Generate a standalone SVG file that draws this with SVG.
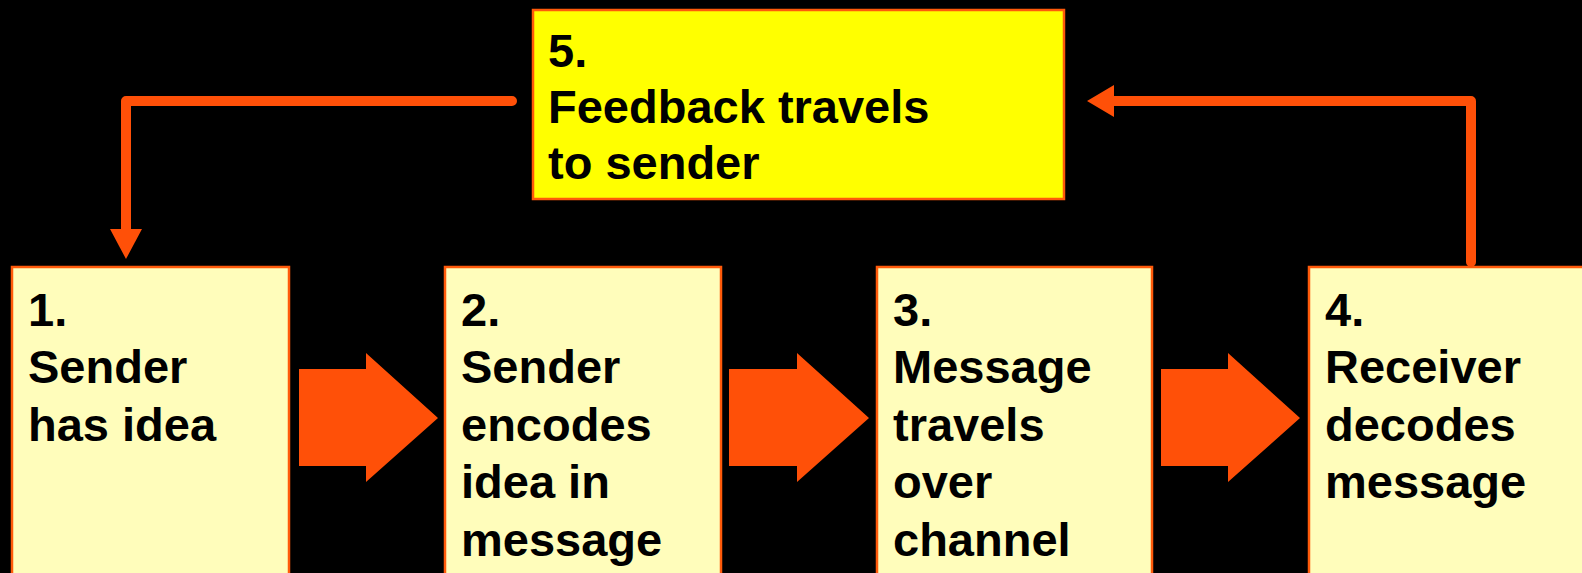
<svg xmlns="http://www.w3.org/2000/svg" width="1582" height="573" viewBox="0 0 1582 573">
<defs>
<style>
.box{fill:#FFFDBB;stroke:#FF5A0A;stroke-width:2.5}
.fb{fill:#FFFF00;stroke:#FF5A0A;stroke-width:2.5}
.t{font-family:"Liberation Sans",Arial,sans-serif;font-weight:bold;font-size:47px;fill:#000}
.line{fill:none;stroke:#FF5008;stroke-width:10;stroke-linejoin:round;stroke-linecap:round}
.big{fill:#FF5008}
.head{fill:#FF5008}
</style>
</defs>
<rect width="1582" height="573" fill="#000"/>
<g id="node5">
<rect class="fb" x="533" y="10" width="531" height="189"/>
<text class="t" x="548" y="67">5.</text>
<text class="t" x="548" y="123">Feedback travels</text>
<text class="t" x="548" y="179">to sender</text>
</g>
<g id="node1">
<rect class="box" x="12" y="267" width="277" height="310"/>
<text class="t" x="28" y="326">1.</text>
<text class="t" x="28" y="383">Sender</text>
<text class="t" x="28" y="441">has idea</text>
</g>
<g id="node2">
<rect class="box" x="445" y="267" width="276" height="310"/>
<text class="t" x="461" y="326">2.</text>
<text class="t" x="461" y="383">Sender</text>
<text class="t" x="461" y="441">encodes</text>
<text class="t" x="461" y="498">idea in</text>
<text class="t" x="461" y="556">message</text>
</g>
<g id="node3">
<rect class="box" x="877" y="267" width="275" height="310"/>
<text class="t" x="893" y="326">3.</text>
<text class="t" x="893" y="383">Message</text>
<text class="t" x="893" y="441">travels</text>
<text class="t" x="893" y="498">over</text>
<text class="t" x="893" y="556">channel</text>
</g>
<g id="node4">
<rect class="box" x="1309" y="267" width="280" height="310"/>
<text class="t" x="1325" y="326">4.</text>
<text class="t" x="1325" y="383">Receiver</text>
<text class="t" x="1325" y="441">decodes</text>
<text class="t" x="1325" y="498">message</text>
</g>
<g id="connectors">
<polygon class="big" points="299,369 366,369 366,353 438,418 366,482 366,466 299,466"/>
<polygon class="big" points="729,369 797,369 797,353 869,418 797,482 797,466 729,466"/>
<polygon class="big" points="1161,369 1228,369 1228,353 1300,418 1228,482 1228,466 1161,466"/>
<polyline class="line" points="512,101 126,101 126,232"/>
<polygon class="head" points="110,229 142,229 126,259"/>
<polyline class="line" points="1471,262 1471,101 1112,101"/>
<polygon class="head" points="1114,85 1114,117 1087,101"/>
</g>
</svg>
